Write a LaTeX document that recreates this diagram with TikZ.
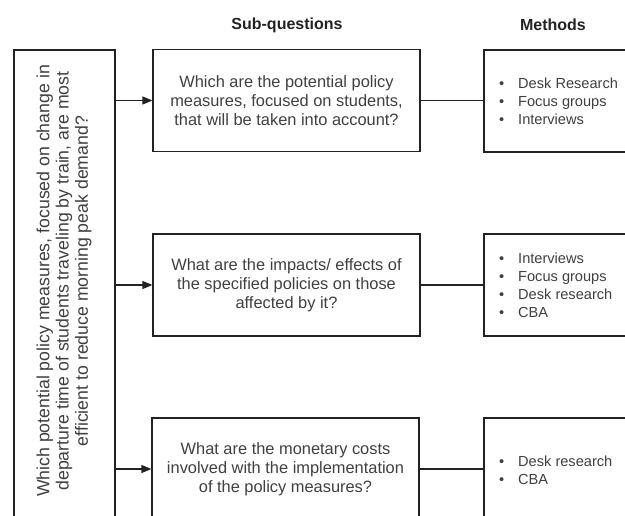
\documentclass[tikz,border=0pt]{standalone}
\usepackage{fontspec}
\setmainfont{Liberation Sans}
\usetikzlibrary{arrows.meta}
\definecolor{ink}{RGB}{64,64,64}
\definecolor{edge}{RGB}{34,34,34}
\tikzset{
  qbox/.style={draw=edge, line width=1.2pt, minimum width=267pt, minimum height=102pt,
    align=center, text=ink, inner sep=0pt, font=\fontsize{16.4}{19}\selectfont},
  mbox/.style={draw=edge, line width=1.2pt, minimum width=156pt, minimum height=102pt,
    inner sep=0pt},
  mlist/.style={anchor=west, align=left, text=ink, inner sep=0pt,
    font=\fontsize{14.6}{18}\selectfont},
  heading/.style={text=edge, font=\bfseries\fontsize{16}{19}\selectfont, inner sep=0pt},
  feed/.style={draw=edge, line width=1.2pt, -{Triangle[length=10pt,width=8pt]}},
  link/.style={draw=edge, line width=1.2pt}
}
\newcommand{\mitem}[1]{\makebox[19pt][l]{•}#1}
\begin{document}
\begin{tikzpicture}[x=1pt,y=-1pt]
  \useasboundingbox (0,0) rectangle (625,516);
  \clip (0,0) rectangle (625,516);
  \fill[white] (0,0) rectangle (625,516);

  % column headings
  \node[heading] (hsub) at (287,25) {Sub-questions};
  \node[heading] (hmeth) at (553,25) {Methods};

  % main research question
  \node[draw=edge, line width=1.2pt, minimum width=101pt, minimum height=490pt, inner sep=0pt]
    (mainbox) at (64.5,295) {};
  \node[rotate=90, align=center, text=ink, inner sep=0pt,
        font=\fontsize{17.7}{19.2}\selectfont] (mainq) at (64,281)
    {Which potential policy measures, focused on change in\\
     departure time of students traveling by train, are most\\
     efficient to reduce morning peak demand?};

  % sub-questions
  \node[qbox] (q1) at (286.5,100.5)
    {Which are the potential policy\\measures, focused on students,\\that will be taken into account?};
  \node[qbox] (q2) at (286.5,285)
    {What are the impacts/ effects of\\the specified policies on those\\affected by it?};
  \node[qbox] (q3) at (285.5,469)
    {What are the monetary costs\\involved with the implementation\\of the policy measures?};

  % method boxes
  \node[mbox] (m1) at (562,101) {};
  \node[mbox] (m2) at (562,285) {};
  \node[mbox] (m3) at (562,469) {};

  \node[mlist] (l1) at (499,101)
    {\mitem{Desk Research}\\\mitem{Focus groups}\\\mitem{Interviews}};
  \node[mlist] (l2) at (499,285)
    {\mitem{Interviews}\\\mitem{Focus groups}\\\mitem{Desk research}\\\mitem{CBA}};
  \node[mlist] (l3) at (499,470)
    {\mitem{Desk research}\\\mitem{CBA}};

  % connectors
  \draw[feed] (mainbox.east |- q1.west) -- (q1.west);
  \draw[feed] (mainbox.east |- q2.west) -- (q2.west);
  \draw[feed] (mainbox.east |- q3.west) -- (q3.west);
  \draw[link] (q1.east) -- (m1.west |- q1.east);
  \draw[link] (q2.east) -- (m2.west |- q2.east);
  \draw[link] (q3.east) -- (m3.west |- q3.east);
\end{tikzpicture}
\end{document}
